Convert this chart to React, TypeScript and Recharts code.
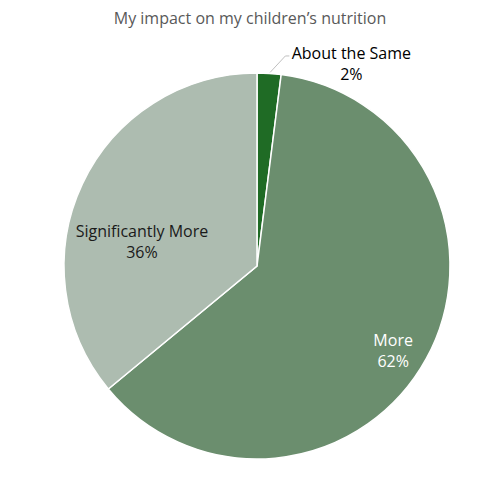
import { PieChart, Pie, Cell } from "recharts";

// Dados
const categories = ["About the Same", "More", "Significantly More"];
const shares = [2, 62, 36];
const colors = ["#1f6b25", "#6b8e6e", "#adbcb0"];

const data = categories.map((name, i) => ({ name, value: shares[i] }));

const RAD = Math.PI / 180;

// Posição dos rótulos (fração do raio e ajuste de ângulo), parecido com o "best fit" do Excel
const labelLayout = [
  { f: 1.12, da: -14, fill: "#000000", outside: true },
  { f: 0.83, da: -3, fill: "#ffffff", outside: false },
  { f: 0.61, da: 13, fill: "#1a1a1a", outside: false },
];

const renderLabel = (props: any) => {
  const { cx, cy, outerRadius, midAngle, index, name, percent } = props;
  const l = labelLayout[index];
  const a = (midAngle + l.da) * RAD;
  let x = cx + outerRadius * l.f * Math.cos(a);
  let y = cy - outerRadius * l.f * Math.sin(a);
  const pct = `${Math.round(percent * 100)}%`;
  let line = null;
  if (l.outside) {
    // texto deslocado para a direita, com linha de ligação até a fatia
    x += 29;
    y += 3;
    const ex = cx + outerRadius * Math.cos(midAngle * RAD) + 1;
    const ey = cy - outerRadius * Math.sin(midAngle * RAD) - 1;
    const tx = x - 62;
    line = (
      <polyline
        points={`${ex},${ey} ${tx - 4},${y - 7} ${tx},${y - 7}`}
        stroke="#bfbfbf"
        fill="none"
        strokeWidth={1}
      />
    );
  }
  return (
    <g>
      {line}
      <text
        x={x}
        y={y}
        textAnchor="middle"
        fill={l.fill}
        fontSize={16}
        fontFamily="'Open Sans', sans-serif"
      >
        <tspan x={x} dy={-4}>{name}</tspan>
        <tspan x={x} dy={21}>{pct}</tspan>
      </text>
    </g>
  );
};

export default function App() {
  return (
    <div style={{ position: "absolute", left: 0, top: 0, width: 500, height: 500, background: "#fff" }}>
      <PieChart width={500} height={500} margin={{ top: 0, right: 0, bottom: 0, left: 0 }}>
        <text
          x={250}
          y={24}
          textAnchor="middle"
          fill="#595959"
          fontSize={16}
          fontFamily="'Open Sans', sans-serif"
        >
          My impact on my children’s nutrition
        </text>
        <Pie
          data={data}
          dataKey="value"
          nameKey="name"
          cx={257}
          cy={266}
          outerRadius={193}
          startAngle={90}
          endAngle={-270}
          stroke="#ffffff"
          strokeWidth={1.5}
          label={renderLabel}
          labelLine={false}
          isAnimationActive={false}
        >
          {data.map((d, i) => (
            <Cell key={d.name} fill={colors[i]} />
          ))}
        </Pie>
      </PieChart>
    </div>
  );
}
